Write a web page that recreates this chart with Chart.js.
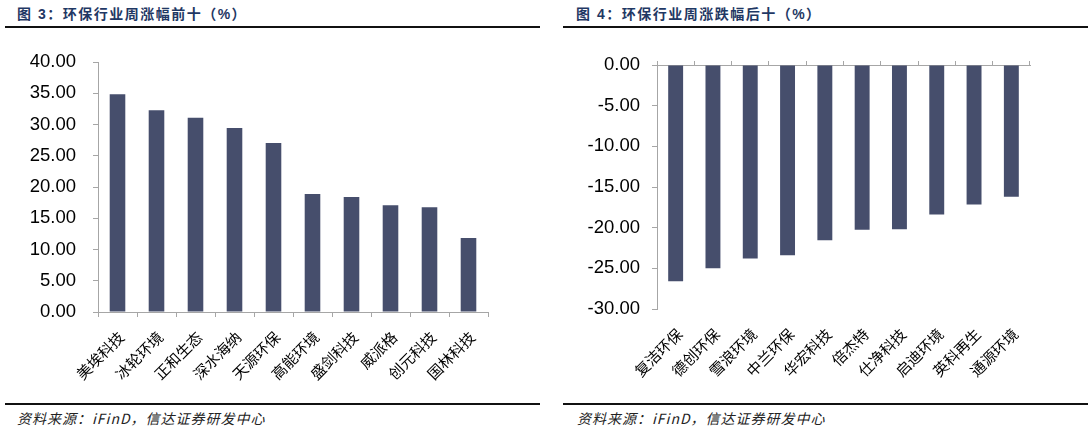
<!DOCTYPE html>
<html>
<head>
<meta charset="utf-8">
<script src="https://cdn.jsdelivr.net/npm/chart.js"></script>
<style>
  body { margin: 0; background: #fff; width: 1088px; height: 434px; position: relative; overflow: hidden;
         font-family: 'Liberation Sans', 'Noto Sans CJK SC', sans-serif; }
  .title { position: absolute; top: 4px; font-size: 14px; font-weight: bold; color: #1f3864; line-height: 20px;
           white-space: nowrap; letter-spacing: 1.5px; }
  .rule { position: absolute; height: 2px; background: #111; }
  .src { position: absolute; top: 409px; font-size: 14px; font-style: italic; color: #222; line-height: 18px; white-space: nowrap;
         letter-spacing: 1px; font-family: 'Noto Sans CJK SC', serif; }
  canvas { position: absolute; }
</style>
</head>
<body>
<div class="title" style="left:17px">图 3：环保行业周涨幅前十（%）</div>
<div class="rule" style="left:5px;width:535px;top:26px"></div>
<canvas id="topChart" width="540" height="360" style="left:0;top:40px"></canvas>
<div class="rule" style="left:5px;width:535px;top:403px"></div>
<div class="src" style="left:17px">资料来源：iFinD，信达证券研发中心</div>

<div class="title" style="left:576px">图 4：环保行业周涨跌幅后十（%）</div>
<div class="rule" style="left:563px;width:525px;top:26px"></div>
<canvas id="bottomChart" width="543" height="360" style="left:545px;top:40px"></canvas>
<div class="rule" style="left:563px;width:525px;top:403px"></div>
<div class="src" style="left:577px">资料来源：iFinD，信达证券研发中心</div>

<script>
// 周涨幅前十
const topNames = ['美埃科技', '冰轮环境', '正和生态', '深水海纳', '天源环保', '高能环境', '盛剑科技', '威派格', '创元科技', '国林科技'];
const topValues = [34.83, 32.27, 31.09, 29.44, 27.04, 18.88, 18.40, 17.07, 16.75, 11.84];
// 周涨跌幅后十
const bottomNames = ['复洁环保', '德创环保', '雪浪环境', '中兰环保', '华宏科技', '倍杰特', '仕净科技', '启迪环境', '英科再生', '通源环境'];
const bottomValues = [-26.59, -24.99, -23.80, -23.39, -21.54, -20.27, -20.19, -18.38, -17.15, -16.21];

const topTicks = [0, 5, 10, 15, 20, 25, 30, 35, 40];
const bottomTicks = [-30, -25, -20, -15, -10, -5, 0];

const barColor = '#464e6c';
const axisColor = '#a6a6a6';
const fontFamily = "'Liberation Sans', 'Noto Sans CJK SC', sans-serif";

function makeChart(id, names, values, ticks, cfg) {
  const scales = {
    x: {
      type: 'category',
      position: 'bottom',
      grid: { display: cfg.xAtBottom, drawOnChartArea: false, offset: true, color: axisColor, tickLength: 5 },
      border: { display: cfg.xAtBottom, color: axisColor },
      ticks: { color: '#000', font: { family: fontFamily, size: 15 }, maxRotation: 45, minRotation: 45,
               autoSkip: false, padding: cfg.xPad, labelOffset: 5 },
      afterFit: s => { s.height = cfg.xHeight; }
    },
    y: {
      min: ticks[0],
      max: ticks[ticks.length - 1],
      afterBuildTicks: s => { s.ticks = ticks.map(v => ({ value: v })); },
      grid: { drawOnChartArea: false, color: axisColor, tickLength: 5 },
      border: { color: axisColor },
      ticks: { color: '#000', font: { family: fontFamily, size: 18.5 }, padding: cfg.yPad,
               callback: v => v.toFixed(2) },
      afterFit: s => { s.width = cfg.yWidth; s.paddingTop = 0; s.paddingBottom = 0; }
    }
  };
  if (!cfg.xAtBottom) {
    // zero line with tick marks at the top of the plot
    scales.x2 = {
      type: 'category',
      position: 'top',
      labels: names,
      grid: { drawOnChartArea: false, offset: true, color: axisColor, tickLength: 4 },
      border: { color: axisColor },
      ticks: { display: false },
      afterFit: s => { s.height = 5; }
    };
  }
  return new Chart(document.getElementById(id), {
    type: 'bar',
    data: {
      labels: names,
      datasets: [{
        data: values,
        backgroundColor: barColor,
        borderWidth: 0,
        barPercentage: 0.4,
        categoryPercentage: 1.0
      }]
    },
    options: {
      responsive: false,
      animation: false,
      devicePixelRatio: 1,
      layout: { padding: cfg.padding },
      plugins: { legend: { display: false }, tooltip: { enabled: false } },
      scales
    }
  });
}

makeChart('topChart', topNames, topValues, topTicks, {
  xAtBottom: true, xHeight: 88, xPad: 12, yPad: 17, yWidth: 98,
  padding: { left: 0, right: 52, top: 22, bottom: 0 }
});

makeChart('bottomChart', bottomNames, bottomValues, bottomTicks, {
  xAtBottom: false, xHeight: 91, xPad: 12, yPad: 12, yWidth: 112,
  padding: { left: 0, right: 58, top: 20, bottom: 0 }
});
</script>
</body>
</html>
